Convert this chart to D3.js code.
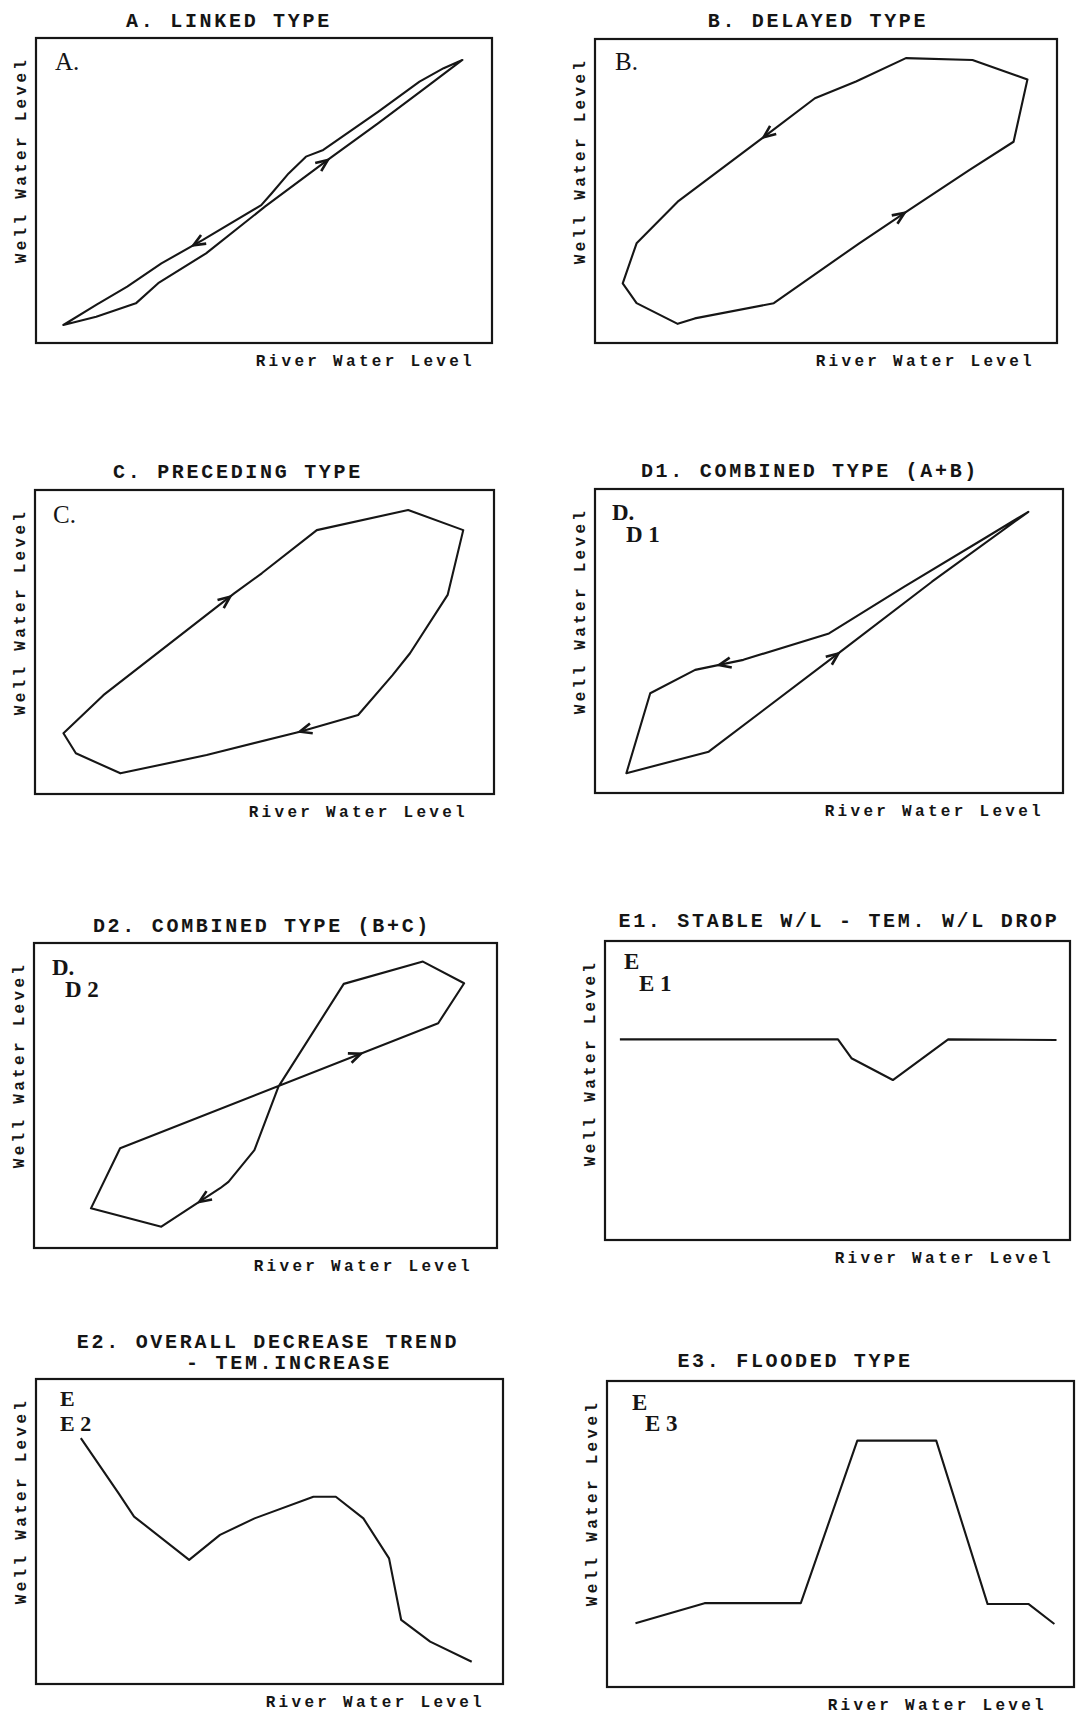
<!DOCTYPE html>
<html>
<head>
<meta charset="utf-8">
<script src="https://cdn.jsdelivr.net/npm/d3@7"></script>
<style>
  body { margin: 0; background: #fff; }
  text { fill: #151515; }
  .title { font-family: 'Liberation Mono', 'Courier New', monospace; font-size: 20px; font-weight: bold; letter-spacing: 2.7px; }
  .axis-label { font-family: 'Liberation Mono', 'Courier New', monospace; font-size: 16px; font-weight: bold; letter-spacing: 3.3px; }
  .tag { font-family: 'Liberation Serif', 'Times New Roman', serif; }
</style>
</head>
<body>
<svg id="svg" width="1079" height="1715"></svg>
<script>
// values in % of each panel's range: [river level, well level]
const linkedPath = [
  [6, 5.9], [13.2, 8.6], [21.9, 13], [26.8, 19.6], [37.3, 29.4], [50.2, 44.7],
  [64.5, 60.6], [75, 72], [84.8, 83], [93.5, 92.8],
  [89.4, 90.1], [84.1, 85.7], [75, 75.8], [63, 63.3], [59.2, 61.1], [55.4, 55.6],
  [51.7, 49.1], [49.4, 45.2], [36.6, 33.8], [27.5, 26.1], [20, 18.5], [13.2, 12.5]
]
// arrow: [tip x, tip y, from x, from y]
const linkedArrows = [[34.5, 32, 49.4, 45.2], [64, 60, 50.2, 44.7]]

const delayedPath = [
  [67.3, 93.7], [81.7, 93.1], [93.6, 86.7], [90.6, 66.2], [81, 56.9], [68, 43.8],
  [57.2, 32.8], [38.7, 13.1], [21.6, 8.1], [17.9, 6.3], [9, 13.1], [6, 19.6],
  [9, 32.8], [17.9, 46.5], [35.7, 66.8], [47.6, 80.5], [56.5, 86]
]
const delayedArrows = [[36.5, 67.7, 47.6, 80.5], [67, 42.8, 57.2, 32.8]]

const precedingPath = [
  [6.2, 20], [8.9, 13.4], [18.6, 6.8], [37.4, 12.8], [57.7, 20.5], [70.4, 26],
  [77.9, 39.1], [81.7, 46.3], [89.9, 65.5], [93.3, 86.8], [81.3, 93.4],
  [61.4, 86.8], [49.4, 72.6], [43.4, 66], [14.9, 32.5]
]
const precedingArrows = [[42.5, 64.9, 14.9, 32.5], [57.7, 20.5, 70.4, 26]]

const combinedABPath = [
  [6.7, 6.5], [24.3, 13.6], [52.9, 47], [72, 69.5], [92.6, 92.5],
  [83.8, 84.3], [66.1, 67.9], [50, 52.5], [31.7, 43.8], [21.4, 40.5], [11.8, 32.8]
]
const combinedABArrows = [[26.5, 42.1, 31.7, 43.8], [52, 45.9, 24.3, 13.6]]

const combinedBCPath = [
  [18.6, 32.7], [87.3, 73.7], [92.9, 86.8], [84, 93.9], [66.9, 86.6], [52.8, 52.9],
  [47.6, 32.1], [42, 21.7], [40.2, 19.6], [27.5, 7], [12.3, 13]
]
const combinedBCArrows = [[70.6, 63.7, 18.6, 32.7], [35.7, 15.1, 40.2, 19.6]]

const stablePath = [[3.2, 67.1], [50.1, 67.1], [53, 60.8], [61.9, 53.5], [73.8, 67.1], [97.1, 66.9]]

const decreasePath = [
  [9.6, 80.6], [17.7, 62.5], [21, 54.9], [32.8, 40.7], [39.4, 48.9], [46.8, 54.3],
  [59.4, 61.4], [64.2, 61.4], [70.1, 54.3], [75.6, 41.2], [78.2, 21], [84.4, 13.9], [93.3, 7.3]
]

const floodedPath = [
  [6.1, 20.8], [20.9, 27.4], [41.5, 27.4], [53.6, 80.5], [70.5, 80.5], [81.5, 27.1], [90.3, 27.1], [95.8, 20.6]
]

const xLabel = 'River Water Level'
const yLabel = 'Well Water Level'

const panels = [
  { box: [36, 38, 492, 343], xEnd: 17,
    titles: [{ t: 'A. LINKED TYPE', x: 229, y: 27 }],
    path: linkedPath, closed: true, arrows: linkedArrows,
    tags: [{ t: 'A.', x: 55, y: 70, size: 25, bold: false }] },
  { box: [595, 39, 1057, 343], xEnd: 22,
    titles: [{ t: 'B. DELAYED TYPE', x: 818, y: 27 }],
    path: delayedPath, closed: true, arrows: delayedArrows,
    tags: [{ t: 'B.', x: 615, y: 70, size: 25, bold: false }] },
  { box: [35, 490, 494, 794], xEnd: 26,
    titles: [{ t: 'C. PRECEDING TYPE', x: 238, y: 478 }],
    path: precedingPath, closed: true, arrows: precedingArrows,
    tags: [{ t: 'C.', x: 53, y: 523, size: 25, bold: false }] },
  { box: [595, 489, 1063, 793], xEnd: 19,
    titles: [{ t: 'D1. COMBINED TYPE (A+B)', x: 810, y: 477 }],
    path: combinedABPath, closed: true, arrows: combinedABArrows,
    tags: [{ t: 'D.', x: 612, y: 520, size: 23, bold: true }, { t: 'D 1', x: 626, y: 542, size: 23, bold: true }] },
  { box: [34, 943, 497, 1248], xEnd: 24,
    titles: [{ t: 'D2. COMBINED TYPE (B+C)', x: 262, y: 932 }],
    path: combinedBCPath, closed: true, arrows: combinedBCArrows,
    tags: [{ t: 'D.', x: 52, y: 975, size: 23, bold: true }, { t: 'D 2', x: 65, y: 997, size: 23, bold: true }] },
  { box: [605, 941, 1070, 1240], xEnd: 16,
    titles: [{ t: 'E1. STABLE W/L - TEM. W/L DROP', x: 839, y: 927 }],
    path: stablePath, closed: false, arrows: [],
    tags: [{ t: 'E', x: 624, y: 969, size: 23, bold: true }, { t: 'E 1', x: 639, y: 991, size: 23, bold: true }] },
  { box: [36, 1379, 503, 1684], xEnd: 18,
    titles: [{ t: 'E2. OVERALL DECREASE TREND', x: 268, y: 1348 }, { t: '- TEM.INCREASE', x: 289, y: 1369 }],
    path: decreasePath, closed: false, arrows: [],
    tags: [{ t: 'E', x: 60, y: 1406, size: 22, bold: true }, { t: 'E 2', x: 60, y: 1431, size: 22, bold: true }] },
  { box: [607, 1381, 1074, 1687], xEnd: 27,
    titles: [{ t: 'E3. FLOODED TYPE', x: 795, y: 1367 }],
    path: floodedPath, closed: false, arrows: [],
    tags: [{ t: 'E', x: 632, y: 1410, size: 23, bold: true }, { t: 'E 3', x: 645, y: 1431, size: 23, bold: true }] }
]

const svg = d3.select('#svg')
const ink = '#161616'

panels.forEach((p) => {
  const [x0, y0, x1, y1] = p.box
  const x = d3.scaleLinear().domain([0, 100]).range([x0, x1])
  const y = d3.scaleLinear().domain([0, 100]).range([y1, y0])
  const g = svg.append('g')

  g.append('rect')
    .attr('x', x0).attr('y', y0)
    .attr('width', x1 - x0).attr('height', y1 - y0)
    .attr('fill', 'none').attr('stroke', ink).attr('stroke-width', 2.2)

  p.titles.forEach((t) => {
    g.append('text').attr('class', 'title')
      .attr('x', t.x).attr('y', t.y)
      .attr('text-anchor', 'middle')
      .text(t.t)
  })

  g.append('text').attr('class', 'axis-label')
    .attr('x', x1 - p.xEnd).attr('y', y1 + 23)
    .attr('text-anchor', 'end')
    .text(xLabel)

  g.append('text').attr('class', 'axis-label')
    .attr('transform', `translate(${x0 - 10}, ${y0 + 122}) rotate(-90)`)
    .attr('text-anchor', 'middle')
    .text(yLabel)

  p.tags.forEach((t) => {
    g.append('text').attr('class', 'tag')
      .attr('x', t.x).attr('y', t.y)
      .attr('font-size', t.size)
      .attr('font-weight', t.bold ? 'bold' : 'normal')
      .text(t.t)
  })

  const line = d3.line()
    .x(d => x(d[0]))
    .y(d => y(d[1]))
    .curve(p.closed ? d3.curveLinearClosed : d3.curveLinear)

  g.append('path')
    .attr('d', line(p.path))
    .attr('fill', 'none')
    .attr('stroke', ink)
    .attr('stroke-width', 2.1)
    .attr('stroke-linejoin', 'round')

  // open "V" arrowheads along the loops
  p.arrows.forEach((a) => {
    const tx = x(a[0])
    const ty = y(a[1])
    const ang = Math.atan2(ty - y(a[3]), tx - x(a[2]))
    const len = 13
    const spread = 0.4
    const bx1 = tx - len * Math.cos(ang - spread)
    const by1 = ty - len * Math.sin(ang - spread)
    const bx2 = tx - len * Math.cos(ang + spread)
    const by2 = ty - len * Math.sin(ang + spread)
    g.append('path')
      .attr('d', `M${bx1},${by1}L${tx},${ty}L${bx2},${by2}`)
      .attr('fill', 'none')
      .attr('stroke', ink)
      .attr('stroke-width', 2.6)
      .attr('stroke-linejoin', 'miter')
  })
})
</script>
</body>
</html>
